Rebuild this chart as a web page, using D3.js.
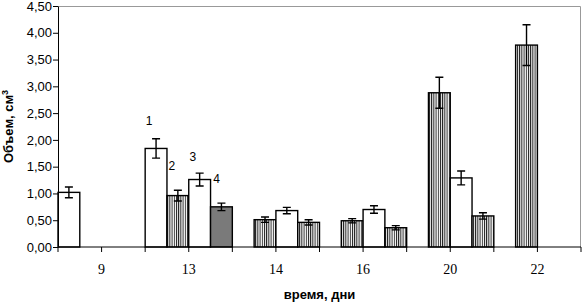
<!DOCTYPE html>
<html>
<head>
<meta charset="utf-8">
<script src="https://cdn.jsdelivr.net/npm/d3@7"></script>
<style>
  html, body { margin: 0; padding: 0; background: #fff; }
  svg { display: block; }
</style>
</head>
<body>
<div id="chart"></div>
<script>
// days on the x axis
const days = ["9", "13", "14", "16", "20", "22"];
const slots = ["1", "2", "3", "4"];

// bar values per day: [day, slot, kind, mean, error]
// kind: a = open, b = hatched, c = grey
const bars = [
  ["9",  "1", "a", 1.02, 0.10],
  ["13", "1", "a", 1.84, 0.18],
  ["13", "2", "b", 0.96, 0.10],
  ["13", "3", "a", 1.26, 0.12],
  ["13", "4", "c", 0.75, 0.07],
  ["14", "2", "b", 0.51, 0.05],
  ["14", "3", "a", 0.68, 0.06],
  ["14", "4", "b", 0.46, 0.05],
  ["16", "2", "b", 0.49, 0.04],
  ["16", "3", "a", 0.70, 0.07],
  ["16", "4", "b", 0.36, 0.04],
  ["20", "2", "b", 2.88, 0.29],
  ["20", "3", "a", 1.29, 0.13],
  ["20", "4", "b", 0.58, 0.06],
  ["22", "2", "b", 3.77, 0.38]
].map(([day, slot, kind, value, err]) => ({ day, slot, kind, value, err }));

const yTicks = [0, 0.5, 1, 1.5, 2, 2.5, 3, 3.5, 4, 4.5];
const curveLabels = ["1", "2", "3", "4"];

const width = 582, height = 303;
const margin = { top: 6, right: 1, bottom: 56, left: 58 };

const svg = d3.select("#chart").append("svg")
  .attr("width", width)
  .attr("height", height);

const x = d3.scaleBand()
  .domain(days)
  .range([margin.left, width - margin.right]);

const xs = d3.scaleBand()
  .domain(slots)
  .range([0, x.bandwidth()]);

const y = d3.scaleLinear()
  .domain([0, 4.5])
  .range([height - margin.bottom, margin.top]);

const defs = svg.append("defs");
const hatch = defs.append("pattern")
  .attr("id", "hatch")
  .attr("patternUnits", "userSpaceOnUse")
  .attr("width", 2.2)
  .attr("height", 4);
hatch.append("rect").attr("width", 2.2).attr("height", 4).attr("fill", "#fff");
hatch.append("line")
  .attr("x1", 0.5).attr("x2", 0.5)
  .attr("y1", 0).attr("y2", 4)
  .attr("stroke", "#000")
  .attr("stroke-width", 0.9);

const fills = { a: "#fff", b: "url(#hatch)", c: "#7a7a7a" };

// frame (top and right)
svg.append("path")
  .attr("d", `M${margin.left},${margin.top + 0.5}H${width - margin.right - 0.5}V${y(0)}`)
  .attr("fill", "none")
  .attr("stroke", "#999")
  .attr("stroke-width", 1);

// bars
const barX = d => x(d.day) + xs(d.slot);
svg.append("g")
  .selectAll("rect")
  .data(bars)
  .join("rect")
  .attr("x", barX)
  .attr("y", d => y(d.value))
  .attr("width", xs.bandwidth())
  .attr("height", d => y(0) - y(d.value))
  .attr("fill", d => fills[d.kind])
  .attr("stroke", "#000")
  .attr("stroke-width", 1.4);

// error bars
const eb = svg.append("g")
  .attr("stroke", "#000")
  .attr("stroke-width", 1.4)
  .attr("fill", "none");
eb.selectAll("path")
  .data(bars)
  .join("path")
  .attr("d", d => {
    const cx = barX(d) + xs.bandwidth() / 2;
    const t = y(d.value + d.err), b = y(d.value - d.err);
    return `M${cx - 4},${t}H${cx + 4}M${cx},${t}V${b}M${cx - 4},${b}H${cx + 4}`;
  });

// curve numbers on day 13
const labelOffsets = { "1": [-7, -27], "2": [5, -30], "3": [4, -23], "4": [6, -28] };
svg.append("g")
  .selectAll("text")
  .data(bars.filter(d => d.day === "13"))
  .join("text")
  .attr("x", d => {
    const bx = barX(d);
    return d.slot === "1" ? bx + xs.bandwidth() / 2 + labelOffsets[d.slot][0] : bx + labelOffsets[d.slot][0];
  })
  .attr("y", d => y(d.value) + labelOffsets[d.slot][1] + 4)
  .attr("text-anchor", "middle")
  .style("font-family", "'Liberation Sans', Arial, sans-serif")
  .style("font-size", "12px")
  .text(d => curveLabels[slots.indexOf(d.slot)]);

// y axis
const yAxis = d3.axisLeft(y)
  .tickValues(yTicks)
  .tickSize(5)
  .tickSizeOuter(0)
  .tickFormat(d => d3.format(".2f")(d).replace(".", ","));
const gy = svg.append("g")
  .attr("transform", `translate(${margin.left},0)`)
  .call(yAxis);
gy.select(".domain").attr("stroke", "#000");
gy.selectAll("line").attr("stroke", "#000");
gy.selectAll("text")
  .attr("x", -6)
  .style("font-family", "'Liberation Sans', Arial, sans-serif")
  .style("font-size", "13px")
  .attr("fill", "#000");

// x axis: ticks at band edges and centres
const xTickPos = [];
days.forEach(d => {
  xTickPos.push(x(d));
  xTickPos.push(x(d) + x.bandwidth() / 2);
});
xTickPos.push(x.range()[1]);

svg.append("line")
  .attr("x1", margin.left).attr("x2", width - margin.right)
  .attr("y1", y(0)).attr("y2", y(0))
  .attr("stroke", "#000");
svg.append("g")
  .selectAll("line")
  .data(xTickPos)
  .join("line")
  .attr("x1", d => d).attr("x2", d => d)
  .attr("y1", y(0)).attr("y2", y(0) + 5)
  .attr("stroke", "#000");

svg.append("g")
  .selectAll("text")
  .data(days)
  .join("text")
  .attr("x", d => x(d) + x.bandwidth() / 2)
  .attr("y", y(0) + 27)
  .attr("text-anchor", "middle")
  .style("font-family", "'Liberation Serif', 'Times New Roman', serif")
  .style("font-size", "14px")
  .text(d => d);

// axis titles
svg.append("text")
  .attr("x", (margin.left + width - margin.right) / 2)
  .attr("y", 299)
  .attr("text-anchor", "middle")
  .style("font-family", "'Liberation Sans', Arial, sans-serif")
  .style("font-size", "13px")
  .style("font-weight", "bold")
  .text("время, дни");

const yt = svg.append("text")
  .attr("transform", `translate(13,${(y(0) + y(4.5)) / 2}) rotate(-90)`)
  .attr("text-anchor", "middle")
  .style("font-family", "'Liberation Sans', Arial, sans-serif")
  .style("font-size", "13px")
  .style("font-weight", "bold");
yt.append("tspan").text("Объем, см");
yt.append("tspan").attr("dy", -5).style("font-size", "9px").text("3");
</script>
</body>
</html>
